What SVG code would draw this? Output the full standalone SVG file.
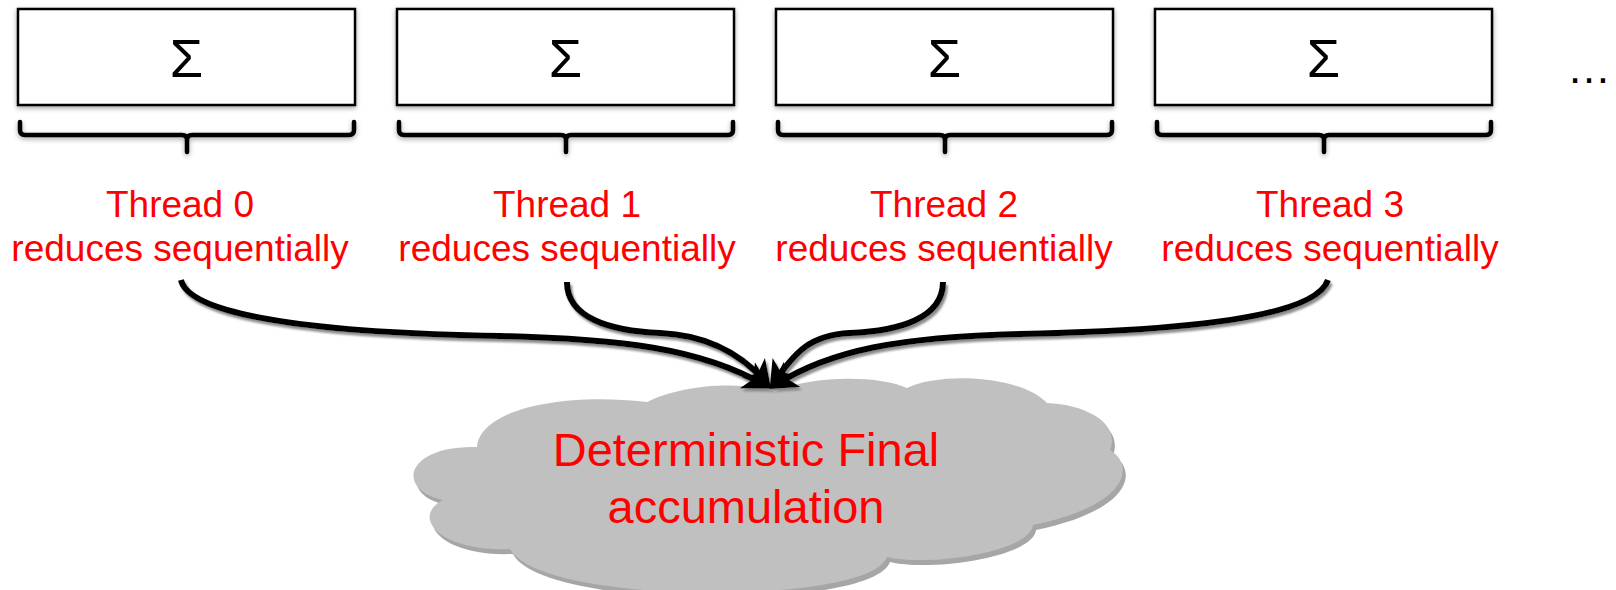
<svg xmlns="http://www.w3.org/2000/svg" width="1616" height="590" viewBox="0 0 1616 590">
  <defs>
    <style>
      .box { fill: #ffffff; stroke: #000000; stroke-width: 2.5; }
      .sigma { font-family: "Liberation Sans", "DejaVu Sans", sans-serif; font-size: 54px; fill: #000000; text-anchor: middle; }
      .brace { fill: none; stroke: #000000; stroke-width: 4.5; stroke-linecap: round; stroke-linejoin: round; }
      .lbl { font-family: "Liberation Sans", Arial, sans-serif; font-size: 37px; fill: #ff0000; text-anchor: middle; }
      .cloudtxt { font-family: "Liberation Sans", Arial, sans-serif; font-size: 47px; fill: #ff0000; text-anchor: middle; }
      .conn { fill: none; stroke: #000000; stroke-width: 6; marker-end: url(#ah); }
      .dots { font-family: "Liberation Sans", Arial, sans-serif; font-size: 44px; fill: #000000; text-anchor: middle; }
    </style>
    <filter id="softsh" x="-10%" y="-20%" width="120%" height="150%">
      <feDropShadow dx="0" dy="2" stdDeviation="2.5" flood-color="#000000" flood-opacity="0.35"/>
    </filter>
    <filter id="linesh" x="-5%" y="-10%" width="110%" height="130%">
      <feDropShadow dx="2" dy="3" stdDeviation="0.8" flood-color="#808080" flood-opacity="0.9"/>
    </filter>
    <marker id="ah" markerUnits="userSpaceOnUse" markerWidth="50" markerHeight="50" refX="20" refY="15" orient="auto">
      <path d="M0,0 L27,15 L0,30 L7,15 Z" fill="#000000"/>
    </marker>
    <path id="bracePath" d="M2,122 V130 Q2,135 7,135 H164 Q169,135 169,140 V152 M169,140 Q169,135 174,135 H331 Q336,135 336,130 V122"/>
  </defs>

  <rect x="0" y="0" width="1616" height="590" fill="#ffffff"/>

  <g id="thread0">
    <g filter="url(#softsh)">
      <rect class="box" x="18" y="9" width="337" height="96"/>
      <text class="sigma" x="186.5" y="77">Σ</text>
      <use href="#bracePath" class="brace" transform="translate(18,0)"/>
    </g>
    <text class="lbl" x="180" y="217">Thread 0</text>
    <text class="lbl" x="180" y="261">reduces sequentially</text>
  </g>

  <g id="thread1">
    <g filter="url(#softsh)">
      <rect class="box" x="397" y="9" width="337" height="96"/>
      <text class="sigma" x="565.5" y="77">Σ</text>
      <use href="#bracePath" class="brace" transform="translate(397,0)"/>
    </g>
    <text class="lbl" x="567" y="217">Thread 1</text>
    <text class="lbl" x="567" y="261">reduces sequentially</text>
  </g>

  <g id="thread2">
    <g filter="url(#softsh)">
      <rect class="box" x="776" y="9" width="337" height="96"/>
      <text class="sigma" x="944.5" y="77">Σ</text>
      <use href="#bracePath" class="brace" transform="translate(776,0)"/>
    </g>
    <text class="lbl" x="944" y="217">Thread 2</text>
    <text class="lbl" x="944" y="261">reduces sequentially</text>
  </g>

  <g id="thread3">
    <g filter="url(#softsh)">
      <rect class="box" x="1155" y="9" width="337" height="96"/>
      <text class="sigma" x="1323.5" y="77">Σ</text>
      <use href="#bracePath" class="brace" transform="translate(1155,0)"/>
    </g>
    <text class="lbl" x="1330" y="217">Thread 3</text>
    <text class="lbl" x="1330" y="261">reduces sequentially</text>
  </g>

  <g id="more">
    <text class="dots" x="1589" y="83">…</text>
  </g>

  <g id="cloud">
    <path transform="translate(3,5)" fill="#a6a6a6" d="M477,447 C480,410 560,392 647,402 C680,385 740,380 775,392 C810,375 880,375 907,388 C940,372 1020,375 1047,403 C1090,405 1120,425 1110,450 C1135,465 1130,505 1033,525 C1030,552 930,567 887,557 C870,606 540,606 510,549 C440,552 410,517 443,500 C395,490 405,445 477,447 Z"/>
    <path fill="#c0c0c0" d="M477,447 C480,410 560,392 647,402 C680,385 740,380 775,392 C810,375 880,375 907,388 C940,372 1020,375 1047,403 C1090,405 1120,425 1110,450 C1135,465 1130,505 1033,525 C1030,552 930,567 887,557 C870,606 540,606 510,549 C440,552 410,517 443,500 C395,490 405,445 477,447 Z"/>
    <text class="cloudtxt" x="746" y="466">Deterministic Final</text>
    <text class="cloudtxt" x="746" y="523">accumulation</text>
  </g>

  <g id="connectors" filter="url(#linesh)">
    <path class="conn" d="M181,280 C190,318 330,333 500,336 C620,339 700,348 764.8,385.1"/>
    <path class="conn" d="M567,282 C567,318 610,331 660,333 C705,335 740,352 766.5,383"/>
    <path class="conn" d="M943,282 C943,318 900,331 850,333 C810,335 795,352 773.6,383"/>
    <path class="conn" d="M1328,280 C1315,318 1180,331 1020,334 C900,337 830,350 775.2,385.1"/>
  </g>
</svg>
